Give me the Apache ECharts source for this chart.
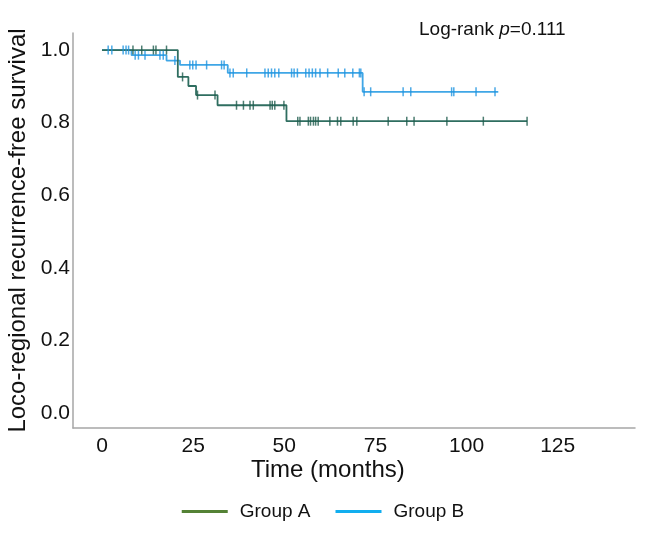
<!DOCTYPE html>
<html>
<head>
<meta charset="utf-8">
<script src="https://cdn.jsdelivr.net/npm/echarts@6/dist/echarts.min.js"></script>
<style>
  html, body { margin: 0; padding: 0; background: #fff; }
  #km { width: 646px; height: 537px; }
</style>
</head>
<body>
<div id="km"></div>
<script>
// step points (time in months, survival)
var groupATimes = [0, 20.8, 23.7, 25.8, 31.7, 50.6, 116.6];
var groupASurv = [1, 0.926, 0.901, 0.876, 0.848, 0.804, 0.804];
var groupBTimes = [0, 8.1, 17.7, 21.4, 34.5, 71.5, 108.7];
var groupBSurv = [1, 0.986, 0.971, 0.959, 0.937, 0.885, 0.885];

// censored times
var groupACensor = [8.5, 10.9, 14.1, 14.8, 17.7, 22.1, 26.2, 31.0, 36.9, 38.8, 40.6, 41.5,
  46.1, 46.7, 47.4, 49.9, 53.7, 54.3, 56.6, 57.2, 58.0, 58.6, 59.3, 62.5, 64.6, 65.5,
  68.9, 69.9, 78.5, 83.6, 85.6, 94.6, 104.6, 116.6];
var groupBCensor = [1.7, 2.7, 5.8, 6.6, 7.3, 9.1, 10.0, 11.8, 15.9, 16.8, 20.0, 24.1, 24.9,
  25.8, 28.7, 32.8, 33.5, 35.1, 36.0, 39.7, 44.7, 45.6, 46.5, 47.4, 48.5, 52.0, 52.7,
  53.6, 55.9, 56.8, 57.7, 58.6, 59.8, 61.9, 64.8, 66.6, 68.8, 70.6, 71.0, 71.9, 73.7,
  82.6, 84.7, 95.9, 96.5, 102.6, 107.8];

var xTicks = [0, 25, 50, 75, 100, 125];
var yTicks = [0, 0.2, 0.4, 0.6, 0.8, 1.0];

var font = "'Liberation Sans', Arial, sans-serif";

function stepPoints(times, surv) {
  return times.map(function (t, i) { return [t, surv[i]]; });
}
// survival value of the curve at a censor time
function censorPoints(censor, times, surv) {
  return censor.map(function (t) {
    var s = surv[0];
    for (var i = 0; i < times.length; i++) {
      if (times[i] <= t) s = surv[i];
    }
    return [t, s];
  });
}

var myChart = echarts.init(document.getElementById("km"));
myChart.setOption({
  animation: false,
  textStyle: { fontFamily: font },
  title: {
    text: "{n|Log-rank }{i|p}{n|=0.111}",
    left: 414,
    top: 15,
    textStyle: {
      fontWeight: "normal",
      rich: {
        n: { fontSize: 19, color: "#111", fontWeight: "normal", fontFamily: font },
        i: { fontSize: 19, color: "#111", fontWeight: "normal", fontStyle: "italic", fontFamily: font }
      }
    }
  },
  graphic: [{
    type: "text",
    left: 251,
    top: 458,
    style: { text: "Time (months)", fontSize: 24, fill: "#111", fontFamily: font }
  }],
  legend: {
    bottom: 11,
    left: "center",
    itemWidth: 46,
    itemHeight: 3,
    itemGap: 25,
    icon: "rect",
    textStyle: { fontSize: 19, color: "#111", fontFamily: font, padding: [0, 0, 0, 7] },
    data: [
      { name: "Group A", itemStyle: { color: "#548235" } },
      { name: "Group B", itemStyle: { color: "#12AEEF" } }
    ]
  },
  grid: { left: 73, right: 11, top: 33, bottom: 109, outerBoundsMode: "none" },
  xAxis: {
    type: "value",
    min: -7.95,
    max: 146.2,
    splitLine: { show: false },
    axisTick: { show: false },
    axisLine: { onZero: false, lineStyle: { color: "#a6a6a6", width: 1.5 } },
    axisLabel: {
      customValues: xTicks,
      fontSize: 21,
      color: "#111",
      margin: 8,
      fontFamily: font
    }
  },
  yAxis: {
    type: "value",
    min: -0.0413,
    max: 1.047,
    name: "Loco-regional recurrence-free survival",
    nameLocation: "middle",
    nameGap: 43,
    nameTextStyle: { fontSize: 24, color: "#111", fontFamily: font },
    splitLine: { show: false },
    axisTick: { show: false },
    axisLine: { show: true, onZero: false, lineStyle: { color: "#a6a6a6", width: 1.5 } },
    axisLabel: {
      customValues: yTicks,
      fontSize: 21,
      color: "#111",
      margin: 3,
      fontFamily: font,
      formatter: function (v) { return v.toFixed(1); }
    }
  },
  series: [
    {
      name: "Group A",
      type: "line",
      step: "end",
      symbol: "none",
      lineStyle: { color: "#2f6e60", width: 1.8 },
      itemStyle: { color: "#548235" },
      data: stepPoints(groupATimes, groupASurv),
      z: 3
    },
    {
      name: "Group B",
      type: "line",
      step: "end",
      symbol: "none",
      lineStyle: { color: "#3fa6e6", width: 1.8 },
      itemStyle: { color: "#12AEEF" },
      data: stepPoints(groupBTimes, groupBSurv),
      z: 2
    },
    {
      name: "A censored",
      type: "scatter",
      symbol: "rect",
      symbolSize: [1.5, 9],
      itemStyle: { color: "#1f5c4e" },
      data: censorPoints(groupACensor, groupATimes, groupASurv),
      z: 4
    },
    {
      name: "B censored",
      type: "scatter",
      symbol: "rect",
      symbolSize: [1.5, 9],
      itemStyle: { color: "#1e93e0" },
      data: censorPoints(groupBCensor, groupBTimes, groupBSurv),
      z: 4
    }
  ]
});
</script>
</body>
</html>
